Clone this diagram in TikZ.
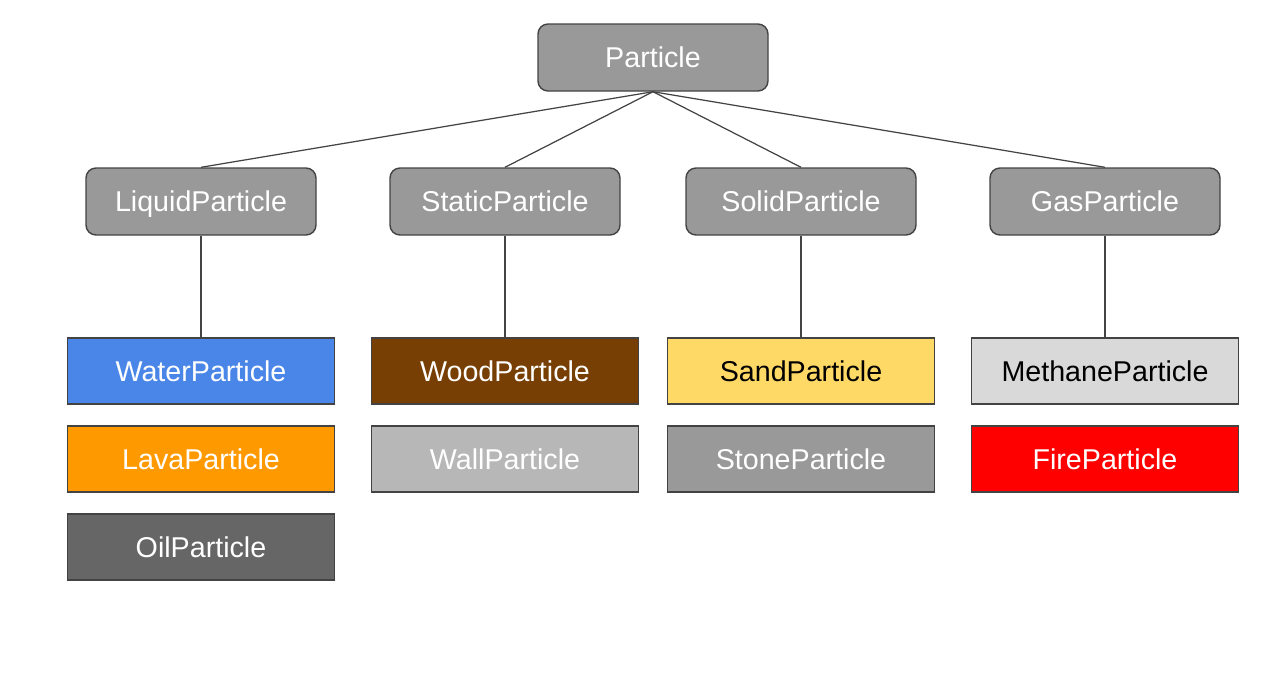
\documentclass[tikz,border=0pt]{standalone}
\usepackage{fontspec}
\setmainfont{Liberation Sans}
\usepackage{xcolor}
\usepackage{tikz}
\usetikzlibrary{positioning}

\definecolor{edgegray}{HTML}{434343}
\definecolor{basegray}{HTML}{999999}
\definecolor{waterblue}{HTML}{4A86E8}
\definecolor{lavaorange}{HTML}{FF9900}
\definecolor{oilgray}{HTML}{666666}
\definecolor{woodbrown}{HTML}{783F04}
\definecolor{wallgray}{HTML}{B7B7B7}
\definecolor{sandyellow}{HTML}{FFD966}
\definecolor{methanegray}{HTML}{D9D9D9}
\definecolor{firered}{HTML}{FF0000}

\begin{document}
\begin{tikzpicture}[
  label/.style={text=white, font=\fontsize{16.3}{19}\selectfont, text height=11.7pt, text depth=0pt},
  base/.style={label, draw=edgegray, line width=0.8pt, rounded corners=0.2cm, fill=basegray,
    minimum width=4.6cm, minimum height=1.34cm},
  kind/.style={label, draw=edgegray, line width=0.8pt, fill=#1,
    minimum width=5.34cm, minimum height=1.32cm},
  link/.style={draw=edgegray, line width=0.7pt},
]
  \useasboundingbox (0,0) rectangle (25.54,-13.5);

  % root and base classes
  \node[base] (particle) at (13.06,-1.15) {Particle};
  \node[base] (liquid) at (4.02,-4.03)  {LiquidParticle};
  \node[base] (static) at (10.10,-4.03) {StaticParticle};
  \node[base] (solid)  at (16.02,-4.03) {SolidParticle};
  \node[base] (gas)    at (22.10,-4.03) {GasParticle};

  % concrete particles
  \node[kind=waterblue]  (water) at (4.02,-7.42)  {WaterParticle};
  \node[kind=lavaorange] (lava)  at (4.02,-9.18)  {LavaParticle};
  \node[kind=oilgray]    (oil)   at (4.02,-10.94) {OilParticle};

  \node[kind=woodbrown] (wood) at (10.10,-7.42) {WoodParticle};
  \node[kind=wallgray]  (wall) at (10.10,-9.18) {WallParticle};

  \node[kind=sandyellow, text=black] (sand)  at (16.02,-7.42) {SandParticle};
  \node[kind=basegray]               (stone) at (16.02,-9.18) {StoneParticle};

  \node[kind=methanegray, text=black] (methane) at (22.10,-7.42) {MethaneParticle};
  \node[kind=firered]                 (fire)    at (22.10,-9.18) {FireParticle};

  \foreach \child in {liquid, static, solid, gas}
    \draw[link] (particle.south) -- (\child.north);

  \draw[link] (liquid.south) -- (water.north);
  \draw[link] (static.south) -- (wood.north);
  \draw[link] (solid.south) -- (sand.north);
  \draw[link] (gas.south) -- (methane.north);
\end{tikzpicture}
\end{document}
